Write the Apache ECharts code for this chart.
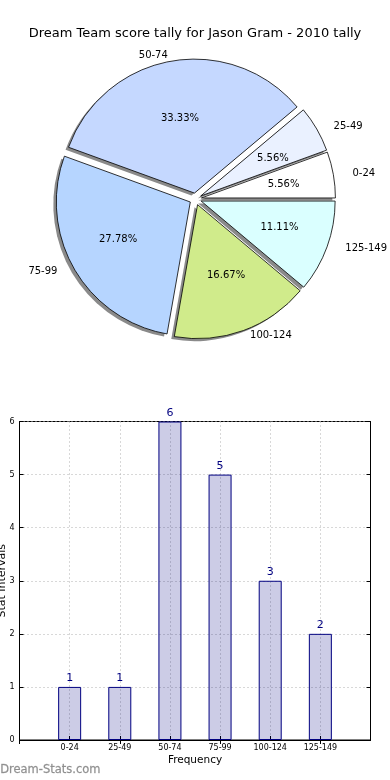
<!DOCTYPE html>
<html>
<head>
<meta charset="utf-8">
<script src="https://cdn.jsdelivr.net/npm/echarts@6/dist/echarts.min.js"></script>
<style>
html,body{margin:0;padding:0;background:#fff;}
#main{width:390px;height:780px;}
</style>
</head>
<body>
<div id="main"></div>
<script>
var titleText = 'Dream Team score tally for Jason Gram - 2010 tally';
var categories = ['0-24', '25-49', '50-74', '75-99', '100-124', '125-149'];
var counts = [1, 1, 6, 5, 3, 2];
var sliceColors = ['#FFFFFF', '#EAF1FF', '#C5D8FF', '#B6D5FF', '#D0EB8B', '#DAFFFF'];
var yTicks = [0, 1, 2, 3, 4, 5, 6];
var xName = 'Frequency';
var yName = 'Stat Intervals';
var watermark = 'Dream-Stats.com';

var total = counts.reduce(function (a, b) { return a + b; }, 0);
var font = 'DejaVu Sans';
var R = 134;
var CX = 195.5, CY = 199;
// the reference pie is slightly elliptical (wider than tall); nudge labels towards that ellipse
var RX = 141.5, RY = 127.5;

var startAcc = 0;
var mids = counts.map(function (v) {
  var a0 = startAcc / total * 2 * Math.PI;
  startAcc += v;
  var a1 = startAcc / total * 2 * Math.PI;
  return (a0 + a1) / 2;
});

function vShift(mid) { return 1.2 * (R - RY) * Math.sin(mid); }
function hShift(mid) { return 0.8 * (RX - R) * Math.cos(mid); }

// label that is moved vertically by dy (positive = down) using an invisible spacer line
function shiftedLabel(text, dy, extra) {
  var h = Math.max(1, 2 * Math.abs(dy));
  var lbl = {
    formatter: dy >= 0 ? '{s| }\n{t|' + text + '}' : '{t|' + text + '}\n{s| }',
    rich: {
      s: { fontSize: 1, height: h, lineHeight: h },
      t: { fontFamily: font, fontSize: 10, color: '#000', lineHeight: 12 }
    }
  };
  if (extra) { for (var k in extra) lbl[k] = extra[k]; }
  return lbl;
}

var pieData = categories.map(function (c, i) {
  var dx = hShift(mids[i]);
  return {
    name: c, value: counts[i], selected: true,
    itemStyle: { color: sliceColors[i] },
    label: shiftedLabel(c, vShift(mids[i]), { padding: [0, dx < 0 ? -dx : 0, 0, dx > 0 ? dx : 0] })
  };
});
var pctData = categories.map(function (c, i) {
  var pct = (counts[i] / total * 100).toFixed(2) + '%';
  return { name: c, value: counts[i], selected: true, label: shiftedLabel(pct, vShift(mids[i])) };
});
var shadowData = categories.map(function (c, i) {
  return { name: c, value: counts[i], selected: true };
});

var xCats = [''].concat(categories).concat(['']);
var barData = [null].concat(counts).concat([null]);

var pieCommon = {
  type: 'pie',
  radius: [0, R],
  startAngle: 0,
  clockwise: false,
  selectedMode: 'multiple',
  selectedOffset: 6,
  avoidLabelOverlap: false,
  emphasis: { disabled: true },
  silent: true
};

var gridLine = { show: true, lineStyle: { color: '#b0b0b0', type: [1, 3], width: 1 } };
var inTick = { show: true, inside: true, length: 4, lineStyle: { color: '#000' } };

var chart = echarts.init(document.getElementById('main'), null, { renderer: 'canvas' });
chart.setOption({
  animation: false,
  backgroundColor: '#fff',
  textStyle: { fontFamily: font },
  title: {
    text: titleText,
    left: 'center',
    top: 22,
    textStyle: { fontFamily: font, fontSize: 13, fontWeight: 'normal', color: '#000' }
  },
  graphic: [{
    type: 'text',
    left: 0,
    top: 764,
    style: { text: watermark, fontFamily: font, fontSize: 11.5, fill: '#8f8f8f', fontWeight: 'normal',
      stroke: '#b0b0b0', lineWidth: 0.3 }
  }],
  grid: {
    left: 19.5, right: 19.5, top: 421.5, bottom: 40,
    containLabel: false,
    outerBoundsMode: 'none',
    show: true, borderColor: '#000', borderWidth: 1, backgroundColor: 'transparent'
  },
  xAxis: [{
    type: 'category',
    data: xCats,
    boundaryGap: false,
    name: xName,
    nameLocation: 'middle',
    nameGap: 15,
    nameTextStyle: { fontFamily: font, fontSize: 10.5, color: '#000' },
    axisLine: { show: true, lineStyle: { color: '#000' } },
    axisTick: inTick,
    axisLabel: { fontFamily: font, fontSize: 8, color: '#000', margin: 4, interval: 0 },
    splitLine: gridLine
  }, {
    type: 'category',
    data: xCats,
    boundaryGap: false,
    position: 'top',
    axisLine: { show: true, lineStyle: { color: '#000' } },
    axisTick: inTick,
    axisLabel: { show: false },
    splitLine: { show: false }
  }],
  yAxis: [{
    type: 'value',
    min: 0, max: 6, interval: 1,
    name: yName,
    nameLocation: 'middle',
    nameRotate: 90,
    nameGap: 12,
    nameMoveOverlap: false,
    nameTextStyle: { fontFamily: font, fontSize: 11, color: '#000' },
    axisLine: { show: true, lineStyle: { color: '#000' } },
    axisTick: inTick,
    axisLabel: { fontFamily: font, fontSize: 8, color: '#000', margin: 5,
      formatter: function (v) { return yTicks.indexOf(v) >= 0 ? String(v) : ''; } },
    splitLine: gridLine
  }, {
    type: 'value',
    min: 0, max: 6, interval: 1,
    position: 'right',
    axisLine: { show: true, lineStyle: { color: '#000' } },
    axisTick: inTick,
    axisLabel: { show: false },
    splitLine: { show: false }
  }],
  series: [
    Object.assign({}, pieCommon, {
      center: [CX - 3, CY + 2.5],
      itemStyle: { color: '#8a8a8a', borderWidth: 0 },
      label: { show: false },
      labelLine: { show: false },
      data: shadowData
    }),
    Object.assign({}, pieCommon, {
      center: [CX, CY],
      itemStyle: { borderColor: '#000', borderWidth: 0.8 },
      label: {
        show: true, position: 'outside', fontFamily: font, fontSize: 10, color: '#000',
        distanceToLabelLine: 0, overflow: 'none'
      },
      labelLine: { show: false, length: R * 0.1, length2: 0 },
      data: pieData
    }),
    Object.assign({}, pieCommon, {
      center: [CX, CY],
      radius: [R * 0.2, R],
      itemStyle: { color: 'rgba(0,0,0,0)', borderWidth: 0 },
      label: { show: true, position: 'inside', fontFamily: font, fontSize: 10, color: '#000' },
      labelLine: { show: false },
      data: pctData
    }),
    {
      type: 'bar',
      data: barData,
      barWidth: 23,
      itemStyle: { color: 'rgba(0,0,128,0.2)', borderColor: '#000080', borderWidth: 1 },
      label: { show: true, position: 'top', distance: 3, fontFamily: font, fontSize: 11, color: '#000080' },
      emphasis: { disabled: true },
      silent: true
    }
  ]
});
</script>
</body>
</html>
